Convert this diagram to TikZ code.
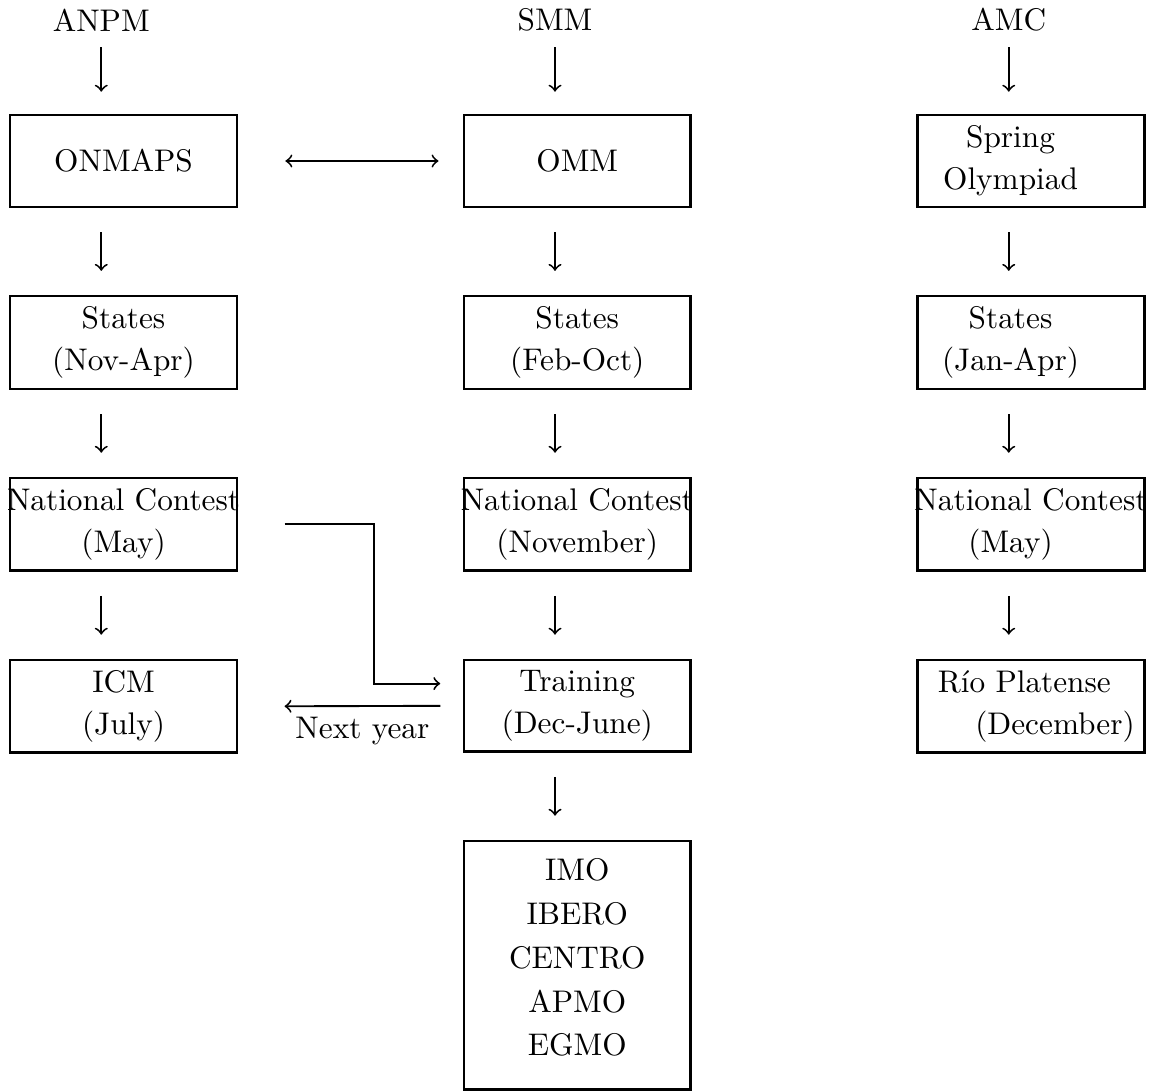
\documentclass[tikz,border=0pt]{standalone}
\usetikzlibrary{positioning}

\begin{document}
\begin{tikzpicture}[node distance=0.975cm and 2.52cm,
  stage/.style={draw,thick,minimum width=2.55cm,minimum height=1.03cm,inner xsep=0pt,align=center,font=\fontsize{10}{13.4}\selectfont},
  every path/.style={semithick}]
\useasboundingbox (0,0) rectangle (12.955,-12.258);
% first row
\node[stage] (ons) at (1.388,-1.809) {ONMAPS};
\node[stage,right=of ons] (omm) {OMM};
\node[stage,right=of omm] (spring) {Spring\hspace*{0.46cm}\\Olympiad\hspace*{0.46cm}};
% organisers
\node[above=0.8cm of ons,xshift=-0.25cm] (anpm) {ANPM};
\node[above=0.8cm of omm,xshift=-0.25cm] (smm) {SMM};
\node[above=0.8cm of spring,xshift=-0.25cm] (amc) {AMC};
% ANPM column
\node[stage,below=of ons] (st1) {States\\(Nov-Apr)};
\node[stage,below=of st1] (nc1) {\makebox[2.4cm]{National Contest}\\(May)};
\node[stage,below=of nc1] (icm) {ICM\\(July)};
% SMM column
\node[stage,below=of omm] (st2) {States\\(Feb-Oct)};
\node[stage,below=of st2] (nc2) {\makebox[2.4cm]{National Contest}\\(November)};
\node[stage,below=of nc2] (train) {Training\\(Dec-June)};
\node[stage,below=of train,minimum height=2.79cm,font=\fontsize{10}{14}\selectfont] (intl) {IMO\\IBERO\\CENTRO\\APMO\\EGMO\\[-9pt]\mbox{}};
% AMC column
\node[stage,below=of spring] (st3) {States\hspace*{0.46cm}\\(Jan-Apr)\hspace*{0.46cm}};
\node[stage,below=of st3] (nc3) {\makebox[2.4cm]{National Contest}\\(May)\hspace*{0.46cm}};
\node[stage,below=of nc3] (rio) {Río Platense\hspace*{0.15cm}\\\hspace*{0.54cm}(December)};
% arrows
\foreach \s/\t in {anpm/ons,smm/omm,amc/spring}
  \draw[->,shorten <=0.05cm,shorten >=0.25cm] (\s) -- (\s |- \t.north);
\foreach \a/\b in {ons/st1,st1/nc1,nc1/icm,omm/st2,st2/nc2,nc2/train,train/intl,spring/st3,st3/nc3,nc3/rio}
  \draw[->,shorten <=0.27cm,shorten >=0.27cm] ([xshift=-0.25cm]\a.south) -- ([xshift=-0.25cm]\b.north);
\draw[<->,shorten <=0.53cm,shorten >=0.27cm] (ons) -- (omm);
\draw[->] ([xshift=0.52cm]nc1.east) -- ++(1.01,0) |- ([xshift=-0.25cm,yshift=0.25cm]train.west);
\draw[->] ([xshift=-0.25cm]train.west) -- node[below] {Next year} ([xshift=0.52cm]icm.east);
\end{tikzpicture}
\end{document}
